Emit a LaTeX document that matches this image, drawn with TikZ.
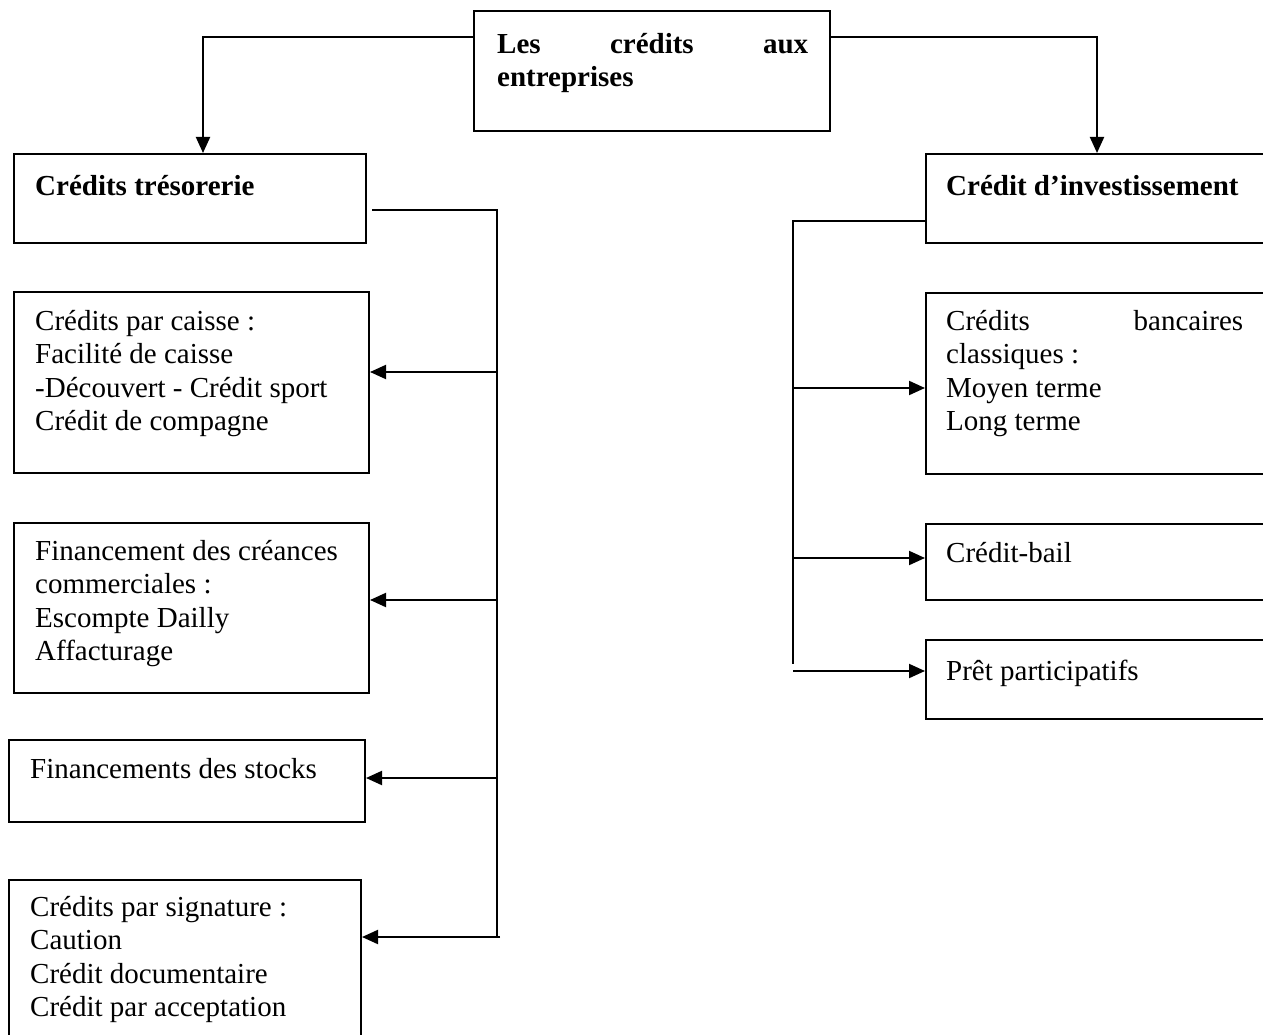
\documentclass[tikz,border=0pt]{standalone}
\usepackage{fontspec}
\setmainfont{Liberation Serif}
\usetikzlibrary{arrows.meta}
\begin{document}
\begin{tikzpicture}[x=1pt,y=-1pt,
  box/.style={draw, line width=2pt, rectangle, inner sep=0pt, anchor=north west},
  txt/.style={anchor=north west, inner sep=0pt, align=left, font=\fontsize{29}{33.5}\selectfont},
  btxt/.style={txt, font=\fontsize{29}{33.5}\selectfont\bfseries},
  conn/.style={line width=2pt},
  arr/.style={conn, -{Triangle[length=16pt,width=14pt]}}]
\useasboundingbox (0,0) rectangle (1263,1035);
\clip (0,0) rectangle (1263,1035);
% boxes
\node[box, minimum width=356pt, minimum height=120pt] (top) at (473,10) {};
\node[box, minimum width=352pt, minimum height=89pt] (tres) at (13,153) {};
\node[box, minimum width=400pt, minimum height=89pt] (inv) at (925,153) {};
\node[box, minimum width=355pt, minimum height=181pt] (c1) at (13,291) {};
\node[box, minimum width=355pt, minimum height=170pt] (c2) at (13,522) {};
\node[box, minimum width=356pt, minimum height=82pt] (c3) at (8,739) {};
\node[box, minimum width=352pt, minimum height=200pt] (c4) at (8,879) {};
\node[box, minimum width=400pt, minimum height=181pt] (r1) at (925,292) {};
\node[box, minimum width=400pt, minimum height=76pt] (r2) at (925,523) {};
\node[box, minimum width=400pt, minimum height=79pt] (r3) at (925,639) {};
% texts
\node[btxt] (ttop) at (497,26) {\rule{0pt}{27pt}\hbox to 311pt{Les\hfill crédits\hfill aux}\\entreprises};
\node[btxt] (ttres) at (35,168) {\rule{0pt}{27pt}Crédits trésorerie};
\node[btxt] (tinv) at (946,168) {\rule{0pt}{27pt}Crédit d’investissement};
\node[txt] (tc1) at (35,303) {\rule{0pt}{27pt}Crédits par caisse :\\Facilité de caisse\\-Découvert - Crédit sport\\Crédit de compagne};
\node[txt] (tc2) at (35,533) {\rule{0pt}{27pt}Financement des créances\\commerciales :\\Escompte Dailly\\Affacturage};
\node[txt] (tc3) at (30,751) {\rule{0pt}{27pt}Financements des stocks};
\node[txt] (tc4) at (30,889) {\rule{0pt}{27pt}Crédits par signature :\\Caution\\Crédit documentaire\\Crédit par acceptation};
\node[txt] (tr1) at (946,303) {\rule{0pt}{27pt}\hbox to 297pt{Crédits\hfill bancaires}\\classiques :\\Moyen terme\\Long terme};
\node[txt] (tr2) at (946,535) {\rule{0pt}{27pt}Crédit-bail};
\node[txt] (tr3) at (946,653) {\rule{0pt}{27pt}Prêt participatifs};
% top connectors
\draw[arr] ([yshift=-27pt]top.north west) -| ([xshift=190pt]tres.north west);
\draw[arr] ([yshift=-27pt]top.north east) -| ([xshift=172pt]inv.north west);
% left bus
\coordinate (lbt) at (497,210);
\coordinate (lbb) at (497,937);
\draw[conn] ([xshift=5pt]tres.east |- lbt) -- (lbt) -- (lbb);
\coordinate (b1) at (497,372);
\coordinate (b2) at (497,600);
\coordinate (b3) at (497,778);
\coordinate (b4) at (500,937);
\draw[arr] (b1) -- (b1 -| c1.east);
\draw[arr] (b2) -- (b2 -| c2.east);
\draw[arr] (b3) -- (b3 -| c3.east);
\draw[arr] (b4) -- (b4 -| c4.east);
% right bus
\coordinate (rbt) at (793,221);
\coordinate (rbb) at (793,664);
\draw[conn] (inv.west |- rbt) -- (rbt) -- (rbb);
\coordinate (d1) at (793,388);
\coordinate (d2) at (793,558);
\coordinate (d3) at (793,671);
\draw[arr] (d1) -- (d1 -| r1.west);
\draw[arr] (d2) -- (d2 -| r2.west);
\draw[arr] (d3) -- (d3 -| r3.west);
\end{tikzpicture}
\end{document}
